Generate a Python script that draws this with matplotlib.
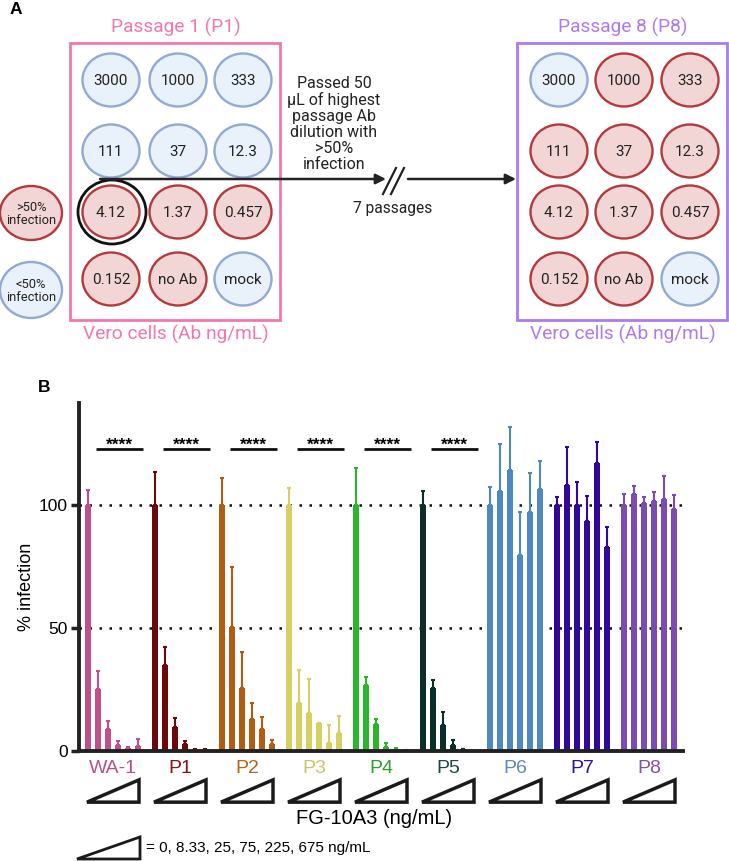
import matplotlib
matplotlib.use('Agg')
import matplotlib.pyplot as plt
from matplotlib.patches import Ellipse, Rectangle, Polygon
from matplotlib.transforms import blended_transform_factory

plt.rcParams['font.family'] = ['Liberation Sans', 'DejaVu Sans']

# ---- Panel B data (% infection, mean and upper error) ----
groups = ['WA-1', 'P1', 'P2', 'P3', 'P4', 'P5', 'P6', 'P7', 'P8']
values = [
    [100, 25.2, 8.9, 2.4, 1.1, 1.9],
    [100, 35.0, 9.9, 2.7, 0.4, 0.4],
    [100, 50.5, 25.5, 12.9, 8.8, 2.8],
    [100, 19.4, 15.3, 11.2, 3.4, 7.5],
    [100, 26.8, 11.0, 1.8, 0.7, 0.3],
    [100, 25.5, 10.6, 2.4, 0.7, 0.2],
    [100, 105.7, 114.2, 79.7, 97.3, 106.5],
    [100, 108.1, 100.0, 93.5, 117.2, 82.8],
    [100, 104.3, 100.9, 101.6, 102.6, 98.6],
]
errors = [
    [6.0, 7.3, 3.3, 1.6, 0.7, 2.8],
    [13.5, 7.4, 3.4, 1.5, 0.3, 0.3],
    [11.2, 24.2, 14.9, 6.5, 5.2, 1.7],
    [6.8, 13.5, 13.8, 0.0, 7.2, 6.9],
    [14.9, 3.4, 1.9, 1.6, 0.4, 0.0],
    [5.8, 3.4, 5.4, 2.1, 0.3, 0.0],
    [7.2, 19.1, 17.6, 17.6, 15.8, 11.4],
    [3.4, 15.6, 9.5, 10.3, 8.5, 8.4],
    [4.7, 3.4, 2.5, 3.8, 9.2, 5.3],
]
bar_colors = ['#c0508a', '#6a0a0c', '#b05c12', '#d6d062', '#2bb52b',
              '#0c2e2b', '#4d88c2', '#30099c', '#7a4bb2']
label_colors = ['#b8508a', '#8b1014', '#b0651c', '#c8c664', '#2fa02f',
                '#1a4a45', '#5a8ac2', '#2a10b0', '#8050b2']
significant = [True, True, True, True, True, True, False, False, False]
doses = '0, 8.33, 25, 75, 225, 675'

# ---- Panel A data ----
wells = ['3000', '1000', '333', '111', '37', '12.3',
         '4.12', '1.37', '0.457', '0.152', 'no Ab', 'mock']
p1_positive = [0, 0, 0, 0, 0, 0, 1, 1, 1, 1, 1, 0]
p8_positive = [0, 1, 1, 1, 1, 1, 1, 1, 1, 1, 1, 0]

BLUE_FILL, BLUE_EDGE = '#e9f1fb', '#92a9d4'
RED_FILL, RED_EDGE = '#f2d6d6', '#b4393d'

fig = plt.figure(figsize=(7.29, 8.61), dpi=100)

# ---------------- Panel B: bar chart ----------------
ax = fig.add_axes([79 / 729, 110 / 861, 604 / 729, 348 / 861])
group_gap = 6.7
for g, name in enumerate(groups):
    xs = [g * group_gap + j for j in range(len(values[g]))]
    ax.bar(xs, values[g], width=0.65, color=bar_colors[g], zorder=2)
    ax.errorbar(xs, values[g], yerr=[[0] * len(xs), errors[g]], fmt='none',
                ecolor=bar_colors[g], elinewidth=1.5, capsize=1.5, capthick=1.5, zorder=2)
    if significant[g]:
        x0 = g * group_gap
        ax.plot([x0 + 0.75, x0 + 5.5], [122.8, 122.8], color='#111', lw=2, solid_capstyle='butt')
        ax.text(x0 + 3.1, 121.2, '****', ha='center', va='bottom', fontsize=12.5, fontweight='bold')

ax.axhline(100, color='#111', ls=(0, (1, 3)), lw=1.8, zorder=1)
ax.axhline(50, color='#111', ls=(0, (1, 3)), lw=1.8, zorder=1)

ax.set_xlim(-0.9, 59.5)
ax.set_ylim(0, 141.5)
ax.set_yticks([0, 50, 100])
ax.set_xticks([])
ax.tick_params(axis='y', length=6, width=2.5, labelsize=12.5, pad=2, color='#222')
for side in ['top', 'right']:
    ax.spines[side].set_visible(False)
for side in ['left', 'bottom']:
    ax.spines[side].set_linewidth(2.8)
    ax.spines[side].set_color('#222')

# group labels and dose triangles below the axis
trans = blended_transform_factory(ax.transData, ax.transAxes)
for g, name in enumerate(groups):
    c = g * group_gap + 2.5
    ax.text(c, -0.05, name, color=label_colors[g], fontsize=14, ha='center', va='center',
            transform=trans, clip_on=False)
    tri = Polygon([(c - 2.6, -0.147), (c + 2.6, -0.147), (c + 2.6, -0.083)], closed=True,
                  fill=False, edgecolor='#1a1a1a', lw=2.5, joinstyle='miter',
                  transform=trans, clip_on=False)
    ax.add_patch(tri)

fig.text(374 / 729, 1 - 818 / 861, 'FG-10A3 (ng/mL)', fontsize=14.5, ha='center', va='center')
fig.text(27 / 729, 1 - 587 / 861, '% infection', fontsize=13, rotation=90, ha='center', va='center')

# ---------------- Overlay in pixel coordinates (panel A + notes) ----------------
axA = fig.add_axes([0, 0, 1, 1])
axA.set_xlim(0, 729)
axA.set_ylim(861, 0)
axA.axis('off')
axA.patch.set_alpha(0)

axA.text(16, 9, 'A', fontsize=12.5, fontweight='bold', ha='center', va='center')
axA.text(44, 388, 'B', fontsize=12.5, fontweight='bold', ha='center', va='center')

rows = [80, 151, 212, 279]


def draw_plate(cols, positive, box_x, title, color):
    axA.add_patch(Rectangle((box_x, 43), 210, 277, fill=False, edgecolor=color, lw=2))
    cx = box_x + 105
    axA.text(cx + 1, 27, title, color=color, fontsize=13.8, family='Roboto',
             ha='center', va='center')
    axA.text(cx + 1, 334, 'Vero cells (Ab ng/mL)', color=color, fontsize=13.8,
             family='Roboto', ha='center', va='center')
    for k, lab in enumerate(wells):
        x = cols[k % 3]
        y = rows[k // 3]
        fc, ec = (RED_FILL, RED_EDGE) if positive[k] else (BLUE_FILL, BLUE_EDGE)
        axA.add_patch(Ellipse((x, y), 57, 53, facecolor=fc, edgecolor=ec, lw=1.7))
        axA.text(x, y + 1, lab, fontsize=11, family='Roboto', color='#222',
                 ha='center', va='center')


draw_plate([111, 178, 243], p1_positive, 70, 'Passage 1 (P1)', '#f277af')
draw_plate([559, 624, 690], p8_positive, 517, 'Passage 8 (P8)', '#ad7af0')

# highlighted well that was passed on
axA.add_patch(Ellipse((112, 212), 68, 64, fill=False, edgecolor='#111', lw=2))

# legend circles
axA.add_patch(Ellipse((31, 213), 62, 54, facecolor=RED_FILL, edgecolor=RED_EDGE, lw=1.7))
axA.text(31, 214, '>50%\ninfection', fontsize=9.3, family='Roboto', color='#222',
         ha='center', va='center', linespacing=1.05)
axA.add_patch(Ellipse((31, 290), 62, 56, facecolor=BLUE_FILL, edgecolor=BLUE_EDGE, lw=1.7))
axA.text(31, 291, '<50%\ninfection', fontsize=9.3, family='Roboto', color='#222',
         ha='center', va='center', linespacing=1.05)

# passage arrow
axA.annotate('', xy=(386, 179), xytext=(100, 179),
             arrowprops=dict(arrowstyle='-|>', color='#222', lw=1.8, mutation_scale=15,
                             shrinkA=0, shrinkB=0))
axA.annotate('', xy=(516, 179), xytext=(408, 179),
             arrowprops=dict(arrowstyle='-|>', color='#222', lw=1.8, mutation_scale=15,
                             shrinkA=0, shrinkB=0))
axA.plot([383, 396], [194, 168], color='#222', lw=1.6)
axA.plot([391, 404], [194, 168], color='#222', lw=1.6)
axA.text(334, 124, 'Passed 50\nµL of highest\npassage Ab\ndilution with\n>50%\ninfection',
         fontsize=11.5, family='Roboto', color='#222', ha='center', va='center', linespacing=1.08)
axA.text(393, 208, '7 passages', fontsize=11.2, family='Roboto', color='#222',
         ha='center', va='center')

# dose legend at the bottom
axA.add_patch(Polygon([(77, 859), (140, 859), (140, 837)], closed=True, fill=False,
                      edgecolor='#1a1a1a', lw=2, joinstyle='miter'))
axA.text(146, 848, '= ' + doses + ' ng/mL', fontsize=11, ha='left', va='center')

fig.savefig('out.png', dpi=100)
